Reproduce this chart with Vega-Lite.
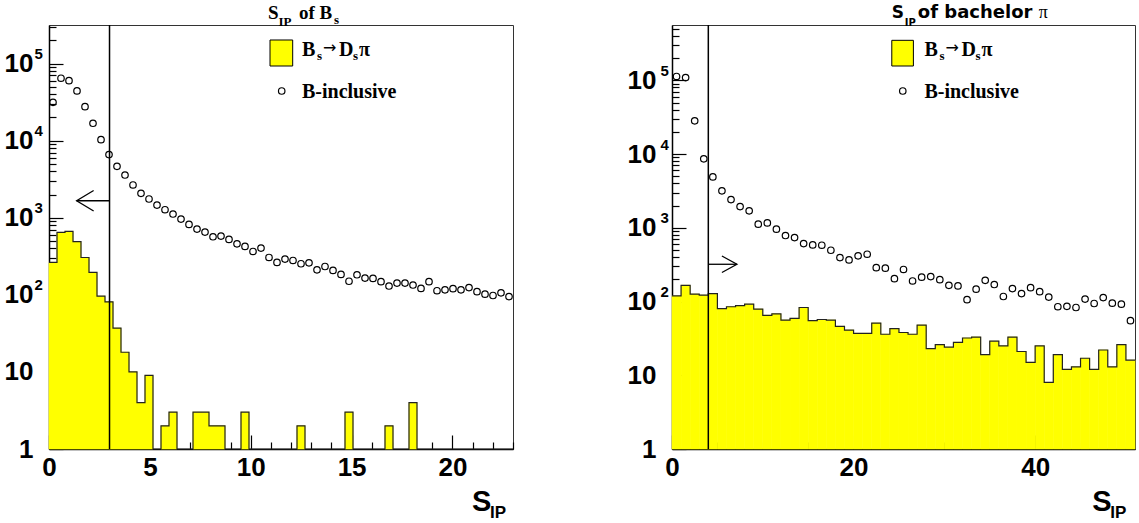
{
  "$schema": "https://vega.github.io/schema/vega-lite/v6.json",
  "background": "white",
  "padding": {"left": 3, "top": 3, "right": 0, "bottom": 0},
  "spacing": 110,
  "config": {
    "view": {"stroke": "#333", "strokeWidth": 1},
    "axis": {"disable": true}
  },
  "datasets": {
    "bs": [
      {"lo": 0, "hi": 0.3966, "mid": 0.1983, "sig": 263, "bkg": 31400},
      {"lo": 0.3966, "hi": 0.7931, "mid": 0.5948, "sig": 645, "bkg": 64500},
      {"lo": 0.7931, "hi": 1.1897, "mid": 0.9914, "sig": 665, "bkg": 60000},
      {"lo": 1.1897, "hi": 1.5862, "mid": 1.3879, "sig": 490, "bkg": 44200},
      {"lo": 1.5862, "hi": 1.9828, "mid": 1.7845, "sig": 305, "bkg": 27600},
      {"lo": 1.9828, "hi": 2.3793, "mid": 2.181, "sig": 195, "bkg": 16800},
      {"lo": 2.3793, "hi": 2.7759, "mid": 2.5776, "sig": 96, "bkg": 10300},
      {"lo": 2.7759, "hi": 3.1724, "mid": 2.9741, "sig": 81, "bkg": 6600},
      {"lo": 3.1724, "hi": 3.569, "mid": 3.3707, "sig": 37, "bkg": 4640},
      {"lo": 3.569, "hi": 3.9655, "mid": 3.7672, "sig": 18, "bkg": 3580},
      {"lo": 3.9655, "hi": 4.3621, "mid": 4.1638, "sig": 10, "bkg": 2660},
      {"lo": 4.3621, "hi": 4.7586, "mid": 4.5603, "sig": 4, "bkg": 2070},
      {"lo": 4.7586, "hi": 5.1552, "mid": 4.9569, "sig": 9, "bkg": 1750},
      {"lo": 5.1552, "hi": 5.5517, "mid": 5.3534, "sig": 0, "bkg": 1460},
      {"lo": 5.5517, "hi": 5.9483, "mid": 5.75, "sig": 2, "bkg": 1270},
      {"lo": 5.9483, "hi": 6.3448, "mid": 6.1466, "sig": 3, "bkg": 1117},
      {"lo": 6.3448, "hi": 6.7414, "mid": 6.5431, "sig": 0, "bkg": 961},
      {"lo": 6.7414, "hi": 7.1379, "mid": 6.9397, "sig": 0, "bkg": 818},
      {"lo": 7.1379, "hi": 7.5345, "mid": 7.3362, "sig": 3, "bkg": 713},
      {"lo": 7.5345, "hi": 7.931, "mid": 7.7328, "sig": 3, "bkg": 651},
      {"lo": 7.931, "hi": 8.3276, "mid": 8.1293, "sig": 2, "bkg": 566},
      {"lo": 8.3276, "hi": 8.7241, "mid": 8.5259, "sig": 2, "bkg": 578},
      {"lo": 8.7241, "hi": 9.1207, "mid": 8.9224, "sig": 0, "bkg": 523},
      {"lo": 9.1207, "hi": 9.5172, "mid": 9.319, "sig": 0, "bkg": 459},
      {"lo": 9.5172, "hi": 9.9138, "mid": 9.7155, "sig": 3, "bkg": 424},
      {"lo": 9.9138, "hi": 10.3103, "mid": 10.1121, "sig": 0, "bkg": 365},
      {"lo": 10.3103, "hi": 10.7069, "mid": 10.5086, "sig": 0, "bkg": 404},
      {"lo": 10.7069, "hi": 11.1034, "mid": 10.9052, "sig": 0, "bkg": 305},
      {"lo": 11.1034, "hi": 11.5, "mid": 11.3017, "sig": 0, "bkg": 263},
      {"lo": 11.5, "hi": 11.8966, "mid": 11.6983, "sig": 0, "bkg": 291},
      {"lo": 11.8966, "hi": 12.2931, "mid": 12.0948, "sig": 0, "bkg": 279},
      {"lo": 12.2931, "hi": 12.6897, "mid": 12.4914, "sig": 2, "bkg": 253},
      {"lo": 12.6897, "hi": 13.0862, "mid": 12.8879, "sig": 0, "bkg": 260},
      {"lo": 13.0862, "hi": 13.4828, "mid": 13.2845, "sig": 0, "bkg": 211},
      {"lo": 13.4828, "hi": 13.8793, "mid": 13.681, "sig": 0, "bkg": 233},
      {"lo": 13.8793, "hi": 14.2759, "mid": 14.0776, "sig": 0, "bkg": 207},
      {"lo": 14.2759, "hi": 14.6724, "mid": 14.4741, "sig": 0, "bkg": 184},
      {"lo": 14.6724, "hi": 15.069, "mid": 14.8707, "sig": 3, "bkg": 150},
      {"lo": 15.069, "hi": 15.4655, "mid": 15.2672, "sig": 0, "bkg": 182},
      {"lo": 15.4655, "hi": 15.8621, "mid": 15.6638, "sig": 0, "bkg": 165},
      {"lo": 15.8621, "hi": 16.2586, "mid": 16.0603, "sig": 0, "bkg": 163},
      {"lo": 16.2586, "hi": 16.6552, "mid": 16.4569, "sig": 0, "bkg": 148},
      {"lo": 16.6552, "hi": 17.0517, "mid": 16.8534, "sig": 2, "bkg": 130},
      {"lo": 17.0517, "hi": 17.4483, "mid": 17.25, "sig": 0, "bkg": 142},
      {"lo": 17.4483, "hi": 17.8448, "mid": 17.6466, "sig": 0, "bkg": 142},
      {"lo": 17.8448, "hi": 18.2414, "mid": 18.0431, "sig": 4, "bkg": 134},
      {"lo": 18.2414, "hi": 18.6379, "mid": 18.4397, "sig": 0, "bkg": 121},
      {"lo": 18.6379, "hi": 19.0345, "mid": 18.8362, "sig": 0, "bkg": 148},
      {"lo": 19.0345, "hi": 19.431, "mid": 19.2328, "sig": 0, "bkg": 113},
      {"lo": 19.431, "hi": 19.8276, "mid": 19.6293, "sig": 0, "bkg": 116},
      {"lo": 19.8276, "hi": 20.2241, "mid": 20.0259, "sig": 0, "bkg": 120},
      {"lo": 20.2241, "hi": 20.6207, "mid": 20.4224, "sig": 0, "bkg": 116},
      {"lo": 20.6207, "hi": 21.0172, "mid": 20.819, "sig": 0, "bkg": 124},
      {"lo": 21.0172, "hi": 21.4138, "mid": 21.2155, "sig": 0, "bkg": 110},
      {"lo": 21.4138, "hi": 21.8103, "mid": 21.6121, "sig": 0, "bkg": 102},
      {"lo": 21.8103, "hi": 22.2069, "mid": 22.0086, "sig": 0, "bkg": 98},
      {"lo": 22.2069, "hi": 22.6034, "mid": 22.4052, "sig": 0, "bkg": 106},
      {"lo": 22.6034, "hi": 23, "mid": 22.8017, "sig": 0, "bkg": 95}
    ],
    "pi": [
      {"lo": 0, "hi": 1, "mid": 0.5, "sig": 119, "bkg": 112700},
      {"lo": 1, "hi": 2, "mid": 1.5, "sig": 166, "bkg": 109000},
      {"lo": 2, "hi": 3, "mid": 2.5, "sig": 126, "bkg": 28200},
      {"lo": 3, "hi": 4, "mid": 3.5, "sig": 122, "bkg": 8600},
      {"lo": 4, "hi": 5, "mid": 4.5, "sig": 128, "bkg": 4900},
      {"lo": 5, "hi": 6, "mid": 5.5, "sig": 80, "bkg": 3170},
      {"lo": 6, "hi": 7, "mid": 6.5, "sig": 85, "bkg": 2410},
      {"lo": 7, "hi": 8, "mid": 7.5, "sig": 88, "bkg": 1940},
      {"lo": 8, "hi": 9, "mid": 8.5, "sig": 92, "bkg": 1700},
      {"lo": 9, "hi": 10, "mid": 9.5, "sig": 79, "bkg": 1120},
      {"lo": 10, "hi": 11, "mid": 10.5, "sig": 65, "bkg": 1165},
      {"lo": 11, "hi": 12, "mid": 11.5, "sig": 68, "bkg": 958},
      {"lo": 12, "hi": 13, "mid": 12.5, "sig": 56, "bkg": 785},
      {"lo": 13, "hi": 14, "mid": 13.5, "sig": 59, "bkg": 737},
      {"lo": 14, "hi": 15, "mid": 14.5, "sig": 83, "bkg": 611},
      {"lo": 15, "hi": 16, "mid": 15.5, "sig": 55, "bkg": 586},
      {"lo": 16, "hi": 17, "mid": 16.5, "sig": 57, "bkg": 580},
      {"lo": 17, "hi": 18, "mid": 17.5, "sig": 56, "bkg": 496},
      {"lo": 18, "hi": 19, "mid": 18.5, "sig": 46, "bkg": 394},
      {"lo": 19, "hi": 20, "mid": 19.5, "sig": 41, "bkg": 367},
      {"lo": 20, "hi": 21, "mid": 20.5, "sig": 37, "bkg": 416},
      {"lo": 21, "hi": 22, "mid": 21.5, "sig": 37, "bkg": 438},
      {"lo": 22, "hi": 23, "mid": 22.5, "sig": 51, "bkg": 288},
      {"lo": 23, "hi": 24, "mid": 23.5, "sig": 36, "bkg": 283},
      {"lo": 24, "hi": 25, "mid": 24.5, "sig": 43, "bkg": 204},
      {"lo": 25, "hi": 26, "mid": 25.5, "sig": 38, "bkg": 272},
      {"lo": 26, "hi": 27, "mid": 26.5, "sig": 36, "bkg": 190},
      {"lo": 27, "hi": 28, "mid": 27.5, "sig": 48, "bkg": 214},
      {"lo": 28, "hi": 29, "mid": 28.5, "sig": 23, "bkg": 218},
      {"lo": 29, "hi": 30, "mid": 29.5, "sig": 26, "bkg": 198},
      {"lo": 30, "hi": 31, "mid": 30.5, "sig": 24, "bkg": 166},
      {"lo": 31, "hi": 32, "mid": 31.5, "sig": 28, "bkg": 163},
      {"lo": 32, "hi": 33, "mid": 32.5, "sig": 32, "bkg": 106},
      {"lo": 33, "hi": 34, "mid": 33.5, "sig": 33, "bkg": 147},
      {"lo": 34, "hi": 35, "mid": 34.5, "sig": 19, "bkg": 194},
      {"lo": 35, "hi": 36, "mid": 35.5, "sig": 29, "bkg": 170},
      {"lo": 36, "hi": 37, "mid": 36.5, "sig": 25, "bkg": 117},
      {"lo": 37, "hi": 38, "mid": 37.5, "sig": 33, "bkg": 150},
      {"lo": 38, "hi": 39, "mid": 38.5, "sig": 21, "bkg": 128},
      {"lo": 39, "hi": 40, "mid": 39.5, "sig": 15, "bkg": 154},
      {"lo": 40, "hi": 41, "mid": 40.5, "sig": 25, "bkg": 136},
      {"lo": 41, "hi": 42, "mid": 41.5, "sig": 8, "bkg": 115},
      {"lo": 42, "hi": 43, "mid": 42.5, "sig": 19, "bkg": 85},
      {"lo": 43, "hi": 44, "mid": 43.5, "sig": 12, "bkg": 86},
      {"lo": 44, "hi": 45, "mid": 44.5, "sig": 13, "bkg": 83},
      {"lo": 45, "hi": 46, "mid": 45.5, "sig": 17, "bkg": 108},
      {"lo": 46, "hi": 47, "mid": 46.5, "sig": 12, "bkg": 94},
      {"lo": 47, "hi": 48, "mid": 47.5, "sig": 22, "bkg": 113},
      {"lo": 48, "hi": 49, "mid": 48.5, "sig": 13, "bkg": 95},
      {"lo": 49, "hi": 50, "mid": 49.5, "sig": 26, "bkg": 92},
      {"lo": 50, "hi": 51, "mid": 50.5, "sig": 16, "bkg": 55}
    ]
  },
  "hconcat": [
    {
      "width": 464,
      "height": 424,
      "data": {"name": "bs"},
      "resolve": {"axis": {"x": "independent", "y": "independent"}},
      "layer": [
        {
          "transform": [{"filter": "datum.sig > 0"}],
          "mark": {"type": "rect", "fill": "#ffff00", "stroke": "#ffff00", "strokeWidth": 0.6},
          "encoding": {
            "x": {
              "field": "lo", "type": "quantitative",
              "scale": {"domain": [0, 23], "nice": false, "zero": false},
              "axis": {
                "orient": "bottom", "title": null, "grid": false,
                "values": [0,1,2,3,4,5,6,7,8,9,10,11,12,13,14,15,16,17,18,19,20,21,22,23],
                "tickSize": {"condition": {"test": "datum.value % 5 === 0", "value": -14}, "value": -7},
                "labelExpr": "datum.value % 5 === 0 ? datum.label : ''",
                "labelPadding": 19, "labelFlush": false, "labelOverlap": false,
                "domainColor": "black", "domainWidth": 1.5, "tickColor": "black", "tickWidth": 1.2,
                "labelFont": "Liberation Sans", "labelFontWeight": "bold", "labelFontSize": 26, "labelColor": "black"
              }
            },
            "x2": {"field": "hi"},
            "y": {
              "field": "sig", "type": "quantitative",
              "scale": {"type": "log", "domain": [1, 316228], "nice": false, "clamp": true},
              "axis": {
                "orient": "left", "title": null, "grid": false,
                "values": [1,2,3,4,5,6,7,8,9,10,20,30,40,50,60,70,80,90,100,200,300,400,500,600,700,800,900,1000,2000,3000,4000,5000,6000,7000,8000,9000,10000,20000,30000,40000,50000,60000,70000,80000,90000,100000,200000,300000],
                "tickSize": {"condition": {"test": "abs(log(datum.value)/LN10 - round(log(datum.value)/LN10)) < 1e-6", "value": -14}, "value": -7},
                "labelExpr": "datum.value === 1 ? '1' : (abs(log(datum.value)/LN10 - round(log(datum.value)/LN10)) < 1e-6 ? '10' : '')",
                "labelPadding": 30, "labelFlush": false, "labelOverlap": false, "labelBaseline": "middle",
                "domainColor": "black", "domainWidth": 1.5, "tickColor": "black", "tickWidth": 1.2,
                "labelFont": "Liberation Sans", "labelFontWeight": "bold", "labelFontSize": 26, "labelColor": "black"
              }
            },
            "y2": {"datum": 1}
          }
        },
        {
          "transform": [{"fold": ["lo", "hi"], "as": ["side", "edge"]}],
          "mark": {"type": "line", "color": "#222", "strokeWidth": 1.2, "invalid": "show"},
          "encoding": {
            "x": {"field": "edge", "type": "quantitative"},
            "y": {"field": "sig", "type": "quantitative"},
            "order": [{"field": "edge", "type": "quantitative"}, {"field": "side", "type": "nominal"}]
          }
        },
        {
          "mark": {"type": "point", "shape": "circle", "filled": false, "stroke": "black", "strokeWidth": 1.2, "size": 42, "opacity": 1},
          "encoding": {
            "x": {"field": "mid", "type": "quantitative"},
            "y": {
              "field": "bkg", "type": "quantitative",
              "axis": {
                "orient": "left", "title": null, "grid": false, "ticks": false, "domain": false,
                "values": [100, 1000, 10000, 100000],
                "labelExpr": "round(log(datum.value)/LN10) + ''",
                "labelAlign": "left", "labelBaseline": "middle", "labelPadding": 15, "labelOffset": -10,
                "labelFlush": false, "labelOverlap": false,
                "labelFont": "Liberation Sans", "labelFontWeight": "bold", "labelFontSize": 15, "labelColor": "black"
              }
            }
          }
        },
        {
          "data": {"values": [{}]},
          "layer": [
            {"mark": {"type": "rule", "color": "black", "strokeWidth": 1.5},
             "encoding": {"x": {"datum": 3, "type": "quantitative"}}},
            {"mark": {"type": "rule", "color": "black", "strokeWidth": 1.3},
             "encoding": {"x": {"datum": 3, "type": "quantitative"}, "x2": {"datum": 1.37}, "y": {"datum": 1660, "type": "quantitative"}}},
            {"mark": {"type": "point", "shape": "M1,-0.6L0,0L1,0.6", "filled": false, "stroke": "black", "strokeWidth": 1.3, "size": 1156, "opacity": 1},
             "encoding": {"x": {"datum": 1.37, "type": "quantitative"}, "y": {"datum": 1660, "type": "quantitative"}}},
            {"mark": {"type": "rect", "fill": "#ffff00", "stroke": "black", "strokeWidth": 1},
             "encoding": {"x": {"datum": 10.955, "type": "quantitative"}, "x2": {"datum": 12.08}, "y": {"datum": 202100, "type": "quantitative"}, "y2": {"datum": 92900}}},
            {"mark": {"type": "point", "shape": "circle", "filled": false, "stroke": "black", "strokeWidth": 1.2, "size": 42, "opacity": 1},
             "encoding": {"x": {"datum": 11.535, "type": "quantitative"}, "y": {"datum": 44050, "type": "quantitative"}}},
            {"mark": {"type": "text", "text": "B", "font": "Liberation Serif", "fontWeight": "bold", "fontSize": 20, "align": "left", "baseline": "alphabetic", "color": "black"},
             "encoding": {"x": {"datum": 12.54, "type": "quantitative"}, "y": {"datum": 125300, "type": "quantitative"}}},
            {"mark": {"type": "text", "text": "s", "font": "Liberation Serif", "fontWeight": "bold", "fontSize": 13, "align": "left", "baseline": "alphabetic", "dx": 15, "dy": 4, "color": "black"},
             "encoding": {"x": {"datum": 12.54, "type": "quantitative"}, "y": {"datum": 125300, "type": "quantitative"}}},
            {"mark": {"type": "text", "text": "→", "font": "DejaVu Sans", "fontSize": 16, "align": "left", "baseline": "alphabetic", "dx": 21, "dy": -3, "color": "black"},
             "encoding": {"x": {"datum": 12.54, "type": "quantitative"}, "y": {"datum": 125300, "type": "quantitative"}}},
            {"mark": {"type": "text", "text": "D", "font": "Liberation Serif", "fontWeight": "bold", "fontSize": 20, "align": "left", "baseline": "alphabetic", "dx": 37, "color": "black"},
             "encoding": {"x": {"datum": 12.54, "type": "quantitative"}, "y": {"datum": 125300, "type": "quantitative"}}},
            {"mark": {"type": "text", "text": "s", "font": "Liberation Serif", "fontWeight": "bold", "fontSize": 13, "align": "left", "baseline": "alphabetic", "dx": 51, "dy": 4, "color": "black"},
             "encoding": {"x": {"datum": 12.54, "type": "quantitative"}, "y": {"datum": 125300, "type": "quantitative"}}},
            {"mark": {"type": "text", "text": "π", "font": "Liberation Serif", "fontWeight": "bold", "fontSize": 20, "align": "left", "baseline": "alphabetic", "dx": 57, "color": "black"},
             "encoding": {"x": {"datum": 12.54, "type": "quantitative"}, "y": {"datum": 125300, "type": "quantitative"}}},
            {"mark": {"type": "text", "text": "B-inclusive", "font": "Liberation Serif", "fontWeight": "bold", "fontSize": 20, "align": "left", "baseline": "alphabetic", "color": "black"},
             "encoding": {"x": {"datum": 12.54, "type": "quantitative"}, "y": {"datum": 36060, "type": "quantitative"}}},
            {"mark": {"type": "text", "text": "S", "font": "Liberation Serif", "fontWeight": "bold", "fontSize": 19, "align": "left", "baseline": "alphabetic", "dy": -6, "color": "black"},
             "encoding": {"x": {"datum": 10.856, "type": "quantitative"}, "y": {"datum": 316228, "type": "quantitative"}}},
            {"mark": {"type": "text", "text": "IP", "font": "Liberation Serif", "fontWeight": "bold", "fontSize": 13, "align": "left", "baseline": "alphabetic", "dx": 10.5, "dy": 1, "color": "black"},
             "encoding": {"x": {"datum": 10.856, "type": "quantitative"}, "y": {"datum": 316228, "type": "quantitative"}}},
            {"mark": {"type": "text", "text": "of B", "font": "Liberation Serif", "fontWeight": "bold", "fontSize": 19, "align": "left", "baseline": "alphabetic", "dx": 31, "dy": -6, "color": "black"},
             "encoding": {"x": {"datum": 10.856, "type": "quantitative"}, "y": {"datum": 316228, "type": "quantitative"}}},
            {"mark": {"type": "text", "text": "s", "font": "Liberation Serif", "fontWeight": "bold", "fontSize": 13, "align": "left", "baseline": "alphabetic", "dx": 66, "dy": -1, "color": "black"},
             "encoding": {"x": {"datum": 10.856, "type": "quantitative"}, "y": {"datum": 316228, "type": "quantitative"}}},
            {"mark": {"type": "text", "text": "S", "font": "Liberation Sans", "fontWeight": "bold", "fontSize": 29, "align": "left", "baseline": "alphabetic", "dy": 62, "color": "black"},
             "encoding": {"x": {"datum": 20.97, "type": "quantitative"}, "y": {"datum": 1, "type": "quantitative"}}},
            {"mark": {"type": "text", "text": "IP", "font": "Liberation Sans", "fontWeight": "bold", "fontSize": 17, "align": "left", "baseline": "alphabetic", "dx": 18, "dy": 69, "color": "black"},
             "encoding": {"x": {"datum": 20.97, "type": "quantitative"}, "y": {"datum": 1, "type": "quantitative"}}}
          ]
        }
      ]
    },
    {
      "width": 463,
      "height": 424,
      "data": {"name": "pi"},
      "resolve": {"axis": {"x": "independent", "y": "independent"}},
      "layer": [
        {
          "mark": {"type": "rect", "fill": "#ffff00", "stroke": "#ffff00", "strokeWidth": 0.6},
          "encoding": {
            "x": {
              "field": "lo", "type": "quantitative",
              "scale": {"domain": [0, 51], "nice": false, "zero": false},
              "axis": {
                "orient": "bottom", "title": null, "grid": false,
                "values": [0,5,10,15,20,25,30,35,40,45,50],
                "tickSize": {"condition": {"test": "datum.value % 20 === 0", "value": -14}, "value": -7},
                "labelExpr": "datum.value % 20 === 0 ? datum.label : ''",
                "labelPadding": 19, "labelFlush": false, "labelOverlap": false,
                "domainColor": "black", "domainWidth": 1.5, "tickColor": "black", "tickWidth": 1.2,
                "labelFont": "Liberation Sans", "labelFontWeight": "bold", "labelFontSize": 26, "labelColor": "black"
              }
            },
            "x2": {"field": "hi"},
            "y": {
              "field": "sig", "type": "quantitative",
              "scale": {"type": "log", "domain": [1, 562341], "nice": false, "clamp": true},
              "axis": {
                "orient": "left", "title": null, "grid": false,
                "values": [1,2,3,4,5,6,7,8,9,10,20,30,40,50,60,70,80,90,100,200,300,400,500,600,700,800,900,1000,2000,3000,4000,5000,6000,7000,8000,9000,10000,20000,30000,40000,50000,60000,70000,80000,90000,100000,200000,300000,400000,500000],
                "tickSize": {"condition": {"test": "abs(log(datum.value)/LN10 - round(log(datum.value)/LN10)) < 1e-6", "value": -14}, "value": -7},
                "labelExpr": "datum.value === 1 ? '1' : (abs(log(datum.value)/LN10 - round(log(datum.value)/LN10)) < 1e-6 ? '10' : '')",
                "labelPadding": 30, "labelFlush": false, "labelOverlap": false, "labelBaseline": "middle",
                "domainColor": "black", "domainWidth": 1.5, "tickColor": "black", "tickWidth": 1.2,
                "labelFont": "Liberation Sans", "labelFontWeight": "bold", "labelFontSize": 26, "labelColor": "black"
              }
            },
            "y2": {"datum": 1}
          }
        },
        {
          "transform": [{"fold": ["lo", "hi"], "as": ["side", "edge"]}],
          "mark": {"type": "line", "color": "#222", "strokeWidth": 1.2, "invalid": "show"},
          "encoding": {
            "x": {"field": "edge", "type": "quantitative"},
            "y": {"field": "sig", "type": "quantitative"},
            "order": [{"field": "edge", "type": "quantitative"}, {"field": "side", "type": "nominal"}]
          }
        },
        {
          "mark": {"type": "point", "shape": "circle", "filled": false, "stroke": "black", "strokeWidth": 1.2, "size": 42, "opacity": 1},
          "encoding": {
            "x": {"field": "mid", "type": "quantitative"},
            "y": {
              "field": "bkg", "type": "quantitative",
              "axis": {
                "orient": "left", "title": null, "grid": false, "ticks": false, "domain": false,
                "values": [100, 1000, 10000, 100000],
                "labelExpr": "round(log(datum.value)/LN10) + ''",
                "labelAlign": "left", "labelBaseline": "middle", "labelPadding": 12, "labelOffset": -10,
                "labelFlush": false, "labelOverlap": false,
                "labelFont": "Liberation Sans", "labelFontWeight": "bold", "labelFontSize": 15, "labelColor": "black"
              }
            }
          }
        },
        {
          "data": {"values": [{}]},
          "layer": [
            {"mark": {"type": "rule", "color": "black", "strokeWidth": 1.5},
             "encoding": {"x": {"datum": 4, "type": "quantitative"}}},
            {"mark": {"type": "rule", "color": "black", "strokeWidth": 1.3},
             "encoding": {"x": {"datum": 4, "type": "quantitative"}, "x2": {"datum": 7.15}, "y": {"datum": 320, "type": "quantitative"}}},
            {"mark": {"type": "point", "shape": "M-1,-0.55L0,0L-1,0.55", "filled": false, "stroke": "black", "strokeWidth": 1.3, "size": 900, "opacity": 1},
             "encoding": {"x": {"datum": 7.15, "type": "quantitative"}, "y": {"datum": 320, "type": "quantitative"}}},
            {"mark": {"type": "rect", "fill": "#ffff00", "stroke": "black", "strokeWidth": 1},
             "encoding": {"x": {"datum": 24.21, "type": "quantitative"}, "x2": {"datum": 26.59}, "y": {"datum": 348600, "type": "quantitative"}, "y2": {"datum": 156300}}},
            {"mark": {"type": "point", "shape": "circle", "filled": false, "stroke": "black", "strokeWidth": 1.2, "size": 42, "opacity": 1},
             "encoding": {"x": {"datum": 25.42, "type": "quantitative"}, "y": {"datum": 71600, "type": "quantitative"}}},
            {"mark": {"type": "text", "text": "B", "font": "Liberation Serif", "fontWeight": "bold", "fontSize": 20, "align": "left", "baseline": "alphabetic", "color": "black"},
             "encoding": {"x": {"datum": 27.8, "type": "quantitative"}, "y": {"datum": 213600, "type": "quantitative"}}},
            {"mark": {"type": "text", "text": "s", "font": "Liberation Serif", "fontWeight": "bold", "fontSize": 13, "align": "left", "baseline": "alphabetic", "dx": 15, "dy": 4, "color": "black"},
             "encoding": {"x": {"datum": 27.8, "type": "quantitative"}, "y": {"datum": 213600, "type": "quantitative"}}},
            {"mark": {"type": "text", "text": "→", "font": "DejaVu Sans", "fontSize": 16, "align": "left", "baseline": "alphabetic", "dx": 21, "dy": -3, "color": "black"},
             "encoding": {"x": {"datum": 27.8, "type": "quantitative"}, "y": {"datum": 213600, "type": "quantitative"}}},
            {"mark": {"type": "text", "text": "D", "font": "Liberation Serif", "fontWeight": "bold", "fontSize": 20, "align": "left", "baseline": "alphabetic", "dx": 37, "color": "black"},
             "encoding": {"x": {"datum": 27.8, "type": "quantitative"}, "y": {"datum": 213600, "type": "quantitative"}}},
            {"mark": {"type": "text", "text": "s", "font": "Liberation Serif", "fontWeight": "bold", "fontSize": 13, "align": "left", "baseline": "alphabetic", "dx": 51, "dy": 4, "color": "black"},
             "encoding": {"x": {"datum": 27.8, "type": "quantitative"}, "y": {"datum": 213600, "type": "quantitative"}}},
            {"mark": {"type": "text", "text": "π", "font": "Liberation Serif", "fontWeight": "bold", "fontSize": 20, "align": "left", "baseline": "alphabetic", "dx": 57, "color": "black"},
             "encoding": {"x": {"datum": 27.8, "type": "quantitative"}, "y": {"datum": 213600, "type": "quantitative"}}},
            {"mark": {"type": "text", "text": "B-inclusive", "font": "Liberation Serif", "fontWeight": "bold", "fontSize": 20, "align": "left", "baseline": "alphabetic", "color": "black"},
             "encoding": {"x": {"datum": 27.8, "type": "quantitative"}, "y": {"datum": 58100, "type": "quantitative"}}},
            {"mark": {"type": "text", "text": "S", "font": "DejaVu Sans", "fontWeight": "bold", "fontSize": 17, "align": "left", "baseline": "alphabetic", "dy": -6.7, "color": "black"},
             "encoding": {"x": {"datum": 24.21, "type": "quantitative"}, "y": {"datum": 562341, "type": "quantitative"}}},
            {"mark": {"type": "text", "text": "IP", "font": "DejaVu Sans", "fontWeight": "bold", "fontSize": 10, "align": "left", "baseline": "alphabetic", "dx": 13, "dy": 1, "color": "black"},
             "encoding": {"x": {"datum": 24.21, "type": "quantitative"}, "y": {"datum": 562341, "type": "quantitative"}}},
            {"mark": {"type": "text", "text": "of bachelor", "font": "DejaVu Sans", "fontWeight": "bold", "fontSize": 18, "align": "left", "baseline": "alphabetic", "dx": 26, "dy": -6.7, "color": "black"},
             "encoding": {"x": {"datum": 24.21, "type": "quantitative"}, "y": {"datum": 562341, "type": "quantitative"}}},
            {"mark": {"type": "text", "text": "π", "font": "Liberation Serif", "fontSize": 18, "align": "left", "baseline": "alphabetic", "dx": 147, "dy": -6.7, "color": "black"},
             "encoding": {"x": {"datum": 24.21, "type": "quantitative"}, "y": {"datum": 562341, "type": "quantitative"}}},
            {"mark": {"type": "text", "text": "S", "font": "Liberation Sans", "fontWeight": "bold", "fontSize": 29, "align": "left", "baseline": "alphabetic", "dy": 62, "color": "black"},
             "encoding": {"x": {"datum": 46.29, "type": "quantitative"}, "y": {"datum": 1, "type": "quantitative"}}},
            {"mark": {"type": "text", "text": "IP", "font": "Liberation Sans", "fontWeight": "bold", "fontSize": 17, "align": "left", "baseline": "alphabetic", "dx": 18, "dy": 69, "color": "black"},
             "encoding": {"x": {"datum": 46.29, "type": "quantitative"}, "y": {"datum": 1, "type": "quantitative"}}}
          ]
        }
      ]
    }
  ]
}
